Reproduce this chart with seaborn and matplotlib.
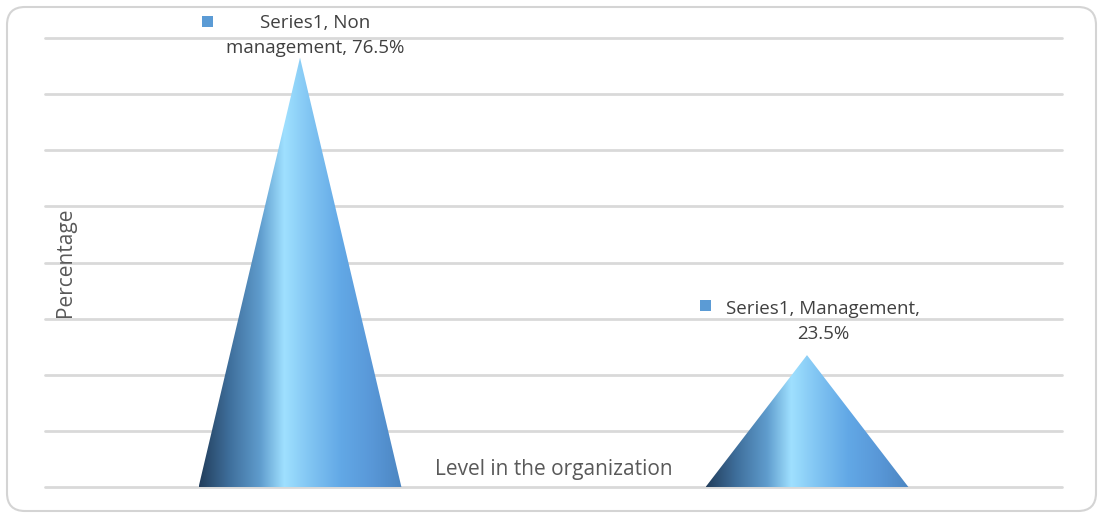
#####----- Cone chart: level in the organization

#####----- IMPORTS
import numpy as np
import pandas as pd
import matplotlib
matplotlib.use("Agg")
import matplotlib.pyplot as plt
from matplotlib.patches import Polygon, FancyBboxPatch
from matplotlib.colors import LinearSegmentedColormap
from matplotlib.transforms import IdentityTransform
import seaborn as sns

#####----- DATA
levels = ["Non management", "Management"]
percentages = [76.5, 23.5]
label_texts = ["Series1, Non\nmanagement, 76.5%", "Series1, Management,\n23.5%"]
y_ticks = [0, 10, 20, 30, 40, 50, 60, 70, 80]

#####----- STYLE
sns.set_style("white")
plt.rcParams['font.family'] = ['Open Sans', 'DejaVu Sans']

cone_cmap = LinearSegmentedColormap.from_list(
    "cone", [(0.0, "#223e5c"), (0.15, "#3f6f9c"), (0.3, "#5f9ccd"),
             (0.42, "#9fe0ff"), (0.55, "#80c4f2"), (0.7, "#62a8e6"),
             (0.85, "#5998d8"), (1.0, "#4c86c2")])

#####----- PLOT
fig = plt.figure(figsize=(10.98, 5.16), dpi=100)
ax = fig.add_axes([45 / 1098, 29 / 516, 1017 / 1098, 449 / 516])

df = pd.DataFrame({"level": levels, "pct": percentages})
sns.barplot(data=df, x="level", y="pct", width=0.4, color="#5b9bd5", ax=ax)

ax.set_yticks(y_ticks)
ax.yaxis.grid(True, color="#d9d9d9", linewidth=2)
for gl in ax.get_ygridlines():
    gl.set_clip_on(False)
ax.set_axisbelow(True)
ax.tick_params(left=False, bottom=False, labelleft=False, labelbottom=False)
for s in ax.spines.values():
    s.set_visible(False)
ax.set_xlabel("")
ax.set_ylabel("")

# replace each bar by a shaded cone with the same footprint
grad = cone_cmap(np.linspace(0, 1, 256))[np.newaxis, :, :3]
for bar in list(ax.patches):
    x0 = bar.get_x()
    w = bar.get_width()
    h = bar.get_height()
    bar.set_visible(False)
    cone = Polygon([(x0, 0), (x0 + w, 0), (x0 + w / 2, h)], closed=True,
                   transform=ax.transData, facecolor="none", edgecolor="none")
    ax.add_patch(cone)
    im = ax.imshow(grad, extent=[x0, x0 + w, 0, h], aspect="auto",
                   interpolation="bicubic", zorder=3)
    im.set_clip_path(cone)
ax.set_xlim(-0.503, 1.503)
ax.set_ylim(0, 80)

# data labels with legend key
text_offsets = [(15, 22), (16, 34)]
key_offsets = [(-93, 36), (-101, 50)]
for i, (val, txt) in enumerate(zip(percentages, label_texts)):
    ax.annotate(txt, xy=(i, val), xytext=text_offsets[i], textcoords="offset pixels",
                ha="center", va="center", multialignment="center",
                fontsize=13.5, color="#404040", linespacing=1.5, zorder=5)
    kx, ky = key_offsets[i]
    px, py = ax.transData.transform((i, val))
    fig.add_artist(plt.Rectangle((px + kx - 5.5, py + ky - 5.5), 11, 11,
                                 transform=IdentityTransform(),
                                 facecolor="#5b9bd5", edgecolor="none"))

ax.text((65 - 45) / 1017, (487 - 262) / 449, "Percentage", transform=ax.transAxes,
        rotation=90, ha="center", va="center", fontsize=15, color="#595959")
ax.text((554 - 45) / 1017, (487 - 469) / 449, "Level in the organization",
        transform=ax.transAxes, ha="center", va="center", fontsize=15, color="#595959",
        zorder=5)

# rounded chart border
fig.add_artist(FancyBboxPatch((7, 5), 1089, 504,
                              boxstyle="round,pad=0,rounding_size=18",
                              transform=IdentityTransform(),
                              facecolor="none", edgecolor="#d4d4d4", linewidth=1.5))

fig.savefig("out.png", dpi=100)
